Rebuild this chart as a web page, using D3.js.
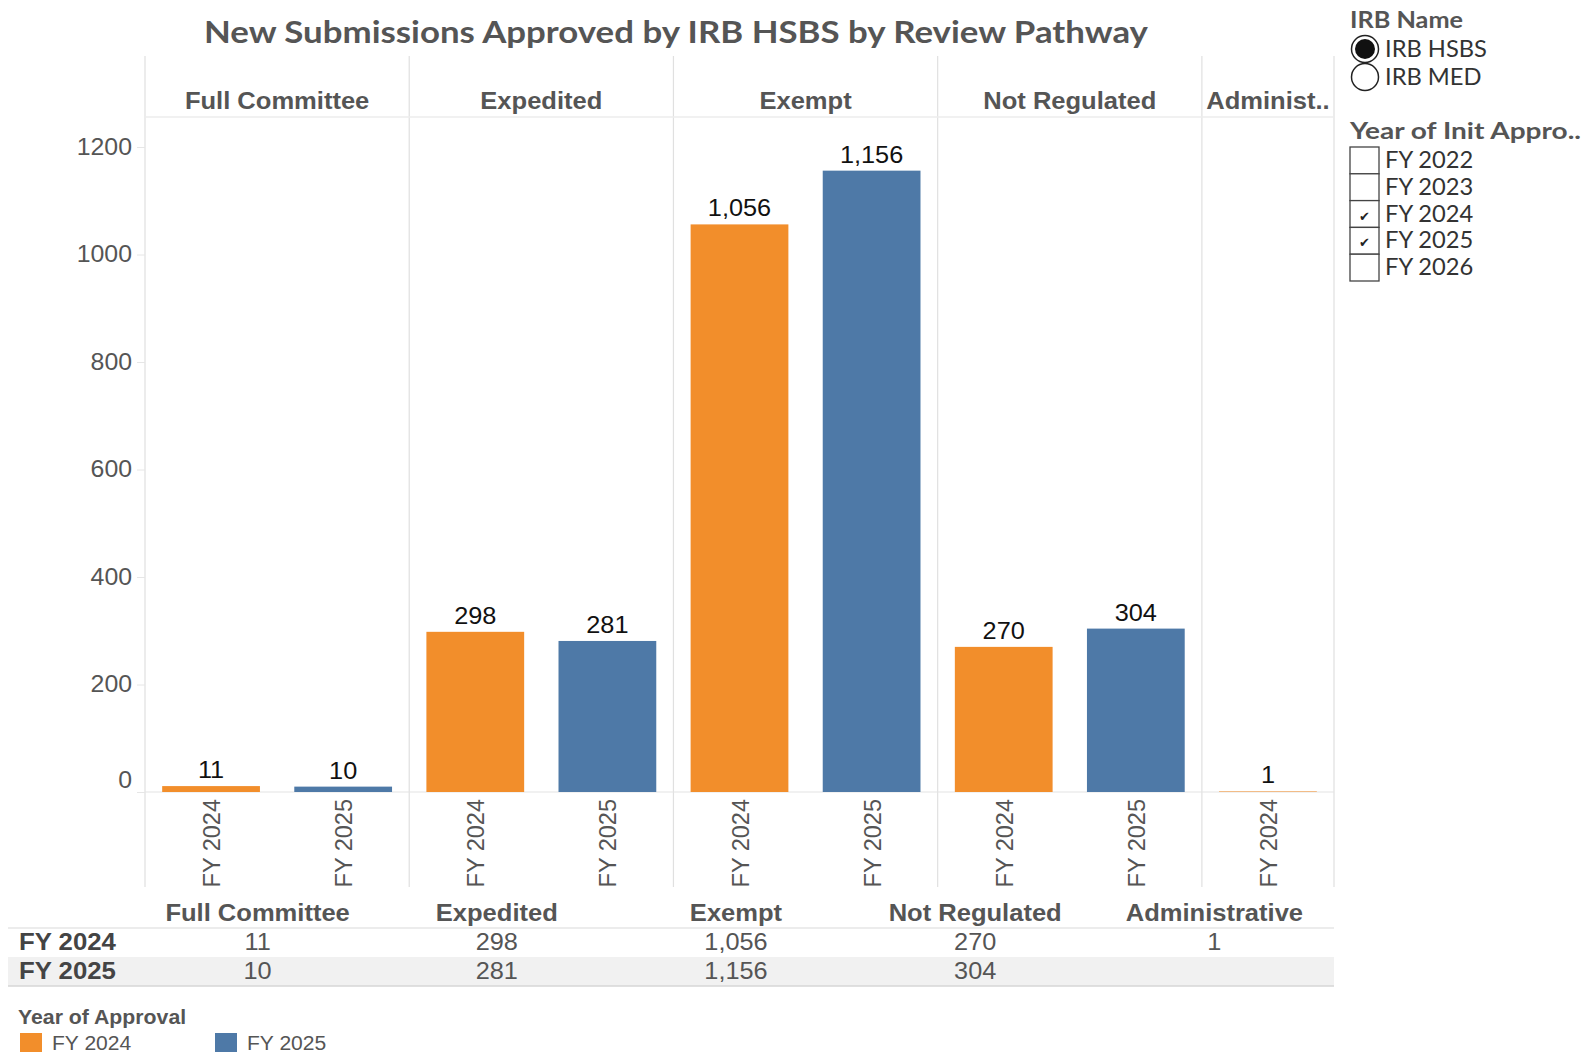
<!DOCTYPE html>
<meta charset="utf-8">
<title>New Submissions Approved by IRB HSBS by Review Pathway</title>
<script src="https://d3js.org/d3.v7.min.js"></script>
<style>
  body { margin: 0; background: #fff; }
  text { font-family: "Liberation Sans", Arial, sans-serif; }
  .tb { font-family: Lato, "Open Sans", sans-serif; }
</style>
<body>
</body>
<script>
// chart values
var categories = ["Full Committee", "Expedited", "Exempt", "Not Regulated", "Administrative"];
var headerLabels = ["Full Committee", "Expedited", "Exempt", "Not Regulated", "Administ.."];
var years = ["FY 2024", "FY 2025"];
var fy2024 = [11, 298, 1056, 270, 1];
var fy2025 = [10, 281, 1156, 304, null];
var yTicks = [0, 200, 400, 600, 800, 1000, 1200];
var irbNames = ["IRB HSBS", "IRB MED"];
var filterYears = ["FY 2022", "FY 2023", "FY 2024", "FY 2025", "FY 2026"];
var checkedYears = ["FY 2024", "FY 2025"];
var colors = {"FY 2024": "#F28E2B", "FY 2025": "#4E79A7"};

// one slot for every category/year pair that has a value
var slots = [];
categories.forEach(function (c, i) {
  if (fy2024[i] != null) slots.push({cat: c, year: "FY 2024", value: fy2024[i]});
  if (fy2025[i] != null) slots.push({cat: c, year: "FY 2025", value: fy2025[i]});
});
function slotKey(d) { return d.cat + "|" + d.year; }

// the source picture has its text a bit wider than the font gives
function stretch(sel, k) {
  sel.each(function () {
    var w = this.getComputedTextLength();
    if (w > 0) d3.select(this).attr("textLength", w * k).attr("lengthAdjust", "spacingAndGlyphs");
  });
}

var svg = d3.select("body").append("svg")
  .attr("width", 1585)
  .attr("height", 1053);

var x = d3.scaleBand()
  .domain(slots.map(slotKey))
  .range([145, 1334])
  .paddingInner(0.26)
  .paddingOuter(0.13);
var y = d3.scaleLinear().domain([0, 1200]).range([792, 147]);

// title
svg.append("text")
  .attr("class", "tb")
  .attr("x", 676).attr("y", 43)
  .attr("text-anchor", "middle")
  .attr("font-size", 30).attr("font-weight", 700)
  .attr("fill", "#555")
  .attr("textLength", 944).attr("lengthAdjust", "spacingAndGlyphs")
  .text("New Submissions Approved by IRB HSBS by Review Pathway");

// category panes
var step = x.step();
var panes = categories.map(function (c) {
  var s = slots.filter(function (d) { return d.cat === c; });
  var x0 = x(slotKey(s[0])) - step * x.paddingInner() / 2;
  var x1 = x(slotKey(s[s.length - 1])) + x.bandwidth() + step * x.paddingInner() / 2;
  if (c === categories[0]) x0 = 145;
  if (c === categories[categories.length - 1]) x1 = 1334;
  return {cat: c, x0: x0, x1: x1};
});

var grid = svg.append("g");
var bounds = [145].concat(panes.map(function (p) { return p.x1; }));
grid.selectAll("line.sep")
  .data(bounds)
  .enter().append("line")
  .attr("x1", function (d) { return d; }).attr("x2", function (d) { return d; })
  .attr("y1", 56).attr("y2", 887)
  .attr("stroke", "#e0e0e0").attr("stroke-width", 1.2);
grid.append("line")
  .attr("x1", 145).attr("x2", 1334).attr("y1", 117).attr("y2", 117)
  .attr("stroke", "#ececec").attr("stroke-width", 1.5);
grid.append("line")
  .attr("x1", 145).attr("x2", 1334).attr("y1", y(0)).attr("y2", y(0))
  .attr("stroke", "#e4e4e4").attr("stroke-width", 1.2);

var hdr = svg.selectAll("text.hdr")
  .data(panes)
  .enter().append("text")
  .attr("x", function (d) { return (d.x0 + d.x1) / 2; })
  .attr("y", 109)
  .attr("text-anchor", "middle")
  .attr("font-size", 23).attr("font-weight", 700).attr("fill", "#555")
  .text(function (d, i) { return headerLabels[i]; });
stretch(hdr, 1.11);

// y axis
var yAxis = svg.append("g")
  .attr("transform", "translate(145,0)")
  .call(d3.axisLeft(y).tickValues(yTicks).tickSize(8).tickPadding(5).tickFormat(d3.format("d")));
yAxis.select(".domain").remove();
yAxis.selectAll(".tick line").attr("stroke", "#e6e6e6");
var yl = yAxis.selectAll(".tick text")
  .attr("font-family", "'Liberation Sans', Arial, sans-serif")
  .attr("font-size", 23).attr("fill", "#555")
  .attr("dy", function (d) { return d === 0 ? "-0.2em" : "0.32em"; });
stretch(yl, 1.08);

// bars
svg.selectAll("rect.bar")
  .data(slots)
  .enter().append("rect")
  .attr("x", function (d) { return x(slotKey(d)); })
  .attr("width", x.bandwidth())
  .attr("y", function (d) { return y(d.value); })
  .attr("height", function (d) { return Math.max(y(0) - y(d.value), d.value > 1 ? 1 : 0); })
  .attr("fill", function (d) { return colors[d.year]; });

var vals = svg.selectAll("text.val")
  .data(slots)
  .enter().append("text")
  .attr("x", function (d) { return x(slotKey(d)) + x.bandwidth() / 2; })
  .attr("y", function (d) { return y(d.value) - 8; })
  .attr("text-anchor", "middle")
  .attr("font-size", 23).attr("fill", "#111")
  .text(function (d) { return d3.format(",")(d.value); });
stretch(vals, 1.1);

// x labels
svg.selectAll("text.xl")
  .data(slots)
  .enter().append("text")
  .attr("transform", function (d) {
    return "translate(" + (x(slotKey(d)) + x.bandwidth() / 2 + 9) + ",799) rotate(-90)";
  })
  .attr("text-anchor", "end")
  .attr("font-size", 23.5).attr("fill", "#555")
  .text(function (d) { return d.year; });

// table below
var tx = d3.scaleBand().domain(categories).range([138, 1334]);
var table = svg.append("g");
table.append("rect")
  .attr("x", 8).attr("y", 957).attr("width", 1326).attr("height", 29)
  .attr("fill", "#f1f1f1");
table.append("line")
  .attr("x1", 8).attr("x2", 1334).attr("y1", 928).attr("y2", 928)
  .attr("stroke", "#e6e6e6").attr("stroke-width", 1.5);
table.append("line")
  .attr("x1", 8).attr("x2", 1334).attr("y1", 986).attr("y2", 986)
  .attr("stroke", "#d6d6d6").attr("stroke-width", 1.5);
var th = table.selectAll("text.th")
  .data(categories)
  .enter().append("text")
  .attr("x", function (d) { return tx(d) + tx.bandwidth() / 2; })
  .attr("y", 921)
  .attr("text-anchor", "middle")
  .attr("font-size", 23).attr("font-weight", 700).attr("fill", "#555")
  .text(function (d) { return d; });
stretch(th, 1.11);
var rows = [fy2024, fy2025];
rows.forEach(function (rv, r) {
  var ry = 950 + r * 29;
  var rl = table.append("text")
    .attr("x", 19).attr("y", ry)
    .attr("font-size", 23).attr("font-weight", 700).attr("fill", "#444")
    .text(years[r]);
  stretch(rl, 1.12);
  var cells = table.selectAll("text.r" + r)
    .data(categories)
    .enter().append("text")
    .attr("x", function (d) { return tx(d) + tx.bandwidth() / 2; })
    .attr("y", ry)
    .attr("text-anchor", "middle")
    .attr("font-size", 23).attr("fill", "#555")
    .text(function (d, i) { return rv[i] == null ? "" : d3.format(",")(rv[i]); });
  stretch(cells, 1.1);
});

// colour legend
var leg = svg.append("g");
var lt = leg.append("text")
  .attr("x", 18).attr("y", 1024)
  .attr("font-size", 19.5).attr("font-weight", 700).attr("fill", "#555")
  .text("Year of Approval");
stretch(lt, 1.09);
var legX = d3.scalePoint().domain(years).range([20, 215]);
leg.selectAll("rect")
  .data(years)
  .enter().append("rect")
  .attr("x", function (d) { return legX(d); }).attr("y", 1033)
  .attr("width", 22).attr("height", 19)
  .attr("fill", function (d) { return colors[d]; });
var li = leg.selectAll("text.it")
  .data(years)
  .enter().append("text")
  .attr("x", function (d) { return legX(d) + 32; }).attr("y", 1050)
  .attr("font-size", 19.5).attr("fill", "#555")
  .text(function (d) { return d; });
stretch(li, 1.08);

// right side filters
var side = svg.append("g");
side.selectAll("text.st")
  .data([["IRB Name", 28, 113], ["Year of Init Appro..", 139, 231]])
  .enter().append("text")
  .attr("class", "tb")
  .attr("x", 1350).attr("y", function (d) { return d[1]; })
  .attr("font-size", 22).attr("font-weight", 700).attr("fill", "#555")
  .attr("textLength", function (d) { return d[2]; })
  .attr("lengthAdjust", "spacingAndGlyphs")
  .text(function (d) { return d[0]; });
irbNames.forEach(function (n, i) {
  var cy = 49 + i * 28;
  side.append("circle")
    .attr("cx", 1365).attr("cy", cy).attr("r", 13.5)
    .attr("fill", "#fff").attr("stroke", "#222").attr("stroke-width", 1.5);
  if (i === 0) {
    side.append("circle").attr("cx", 1365).attr("cy", cy).attr("r", 10).attr("fill", "#111");
  }
  var t = side.append("text")
    .attr("class", "tb")
    .attr("x", 1385).attr("y", cy + 8)
    .attr("font-size", 23).attr("fill", "#333")
    .text(n);
  stretch(t, 1.03);
});
filterYears.forEach(function (f, i) {
  var by = 147 + i * 26.8;
  side.append("rect")
    .attr("x", 1350).attr("y", by).attr("width", 29).attr("height", 26.8)
    .attr("fill", "#fff").attr("stroke", "#444").attr("stroke-width", 1.3);
  if (checkedYears.indexOf(f) >= 0) {
    side.append("text")
      .attr("x", 1359).attr("y", by + 20)
      .attr("font-family", "'DejaVu Sans', sans-serif")
      .attr("font-size", 13).attr("fill", "#222")
      .text("\u2714");
  }
  var t = side.append("text")
    .attr("class", "tb")
    .attr("x", 1385).attr("y", by + 21)
    .attr("font-size", 23).attr("fill", "#333")
    .text(f);
  stretch(t, 1.03);
});
</script>
